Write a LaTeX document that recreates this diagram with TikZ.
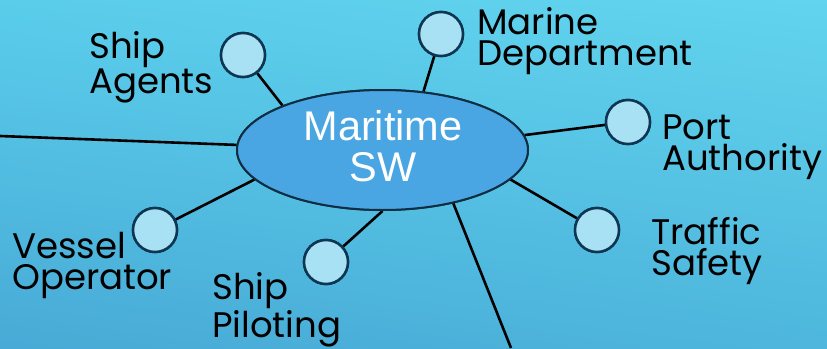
\documentclass[tikz,border=0pt]{standalone}
\usepackage{fontspec}
\setmainfont{Poppins}
\newfontfamily\arialfont{Liberation Sans}
\usetikzlibrary{shapes.geometric,shadings}
\definecolor{bgUL}{HTML}{5ACDEB}
\definecolor{bgUR}{HTML}{62D4EE}
\definecolor{bgLL}{HTML}{48AAD6}
\definecolor{bgLR}{HTML}{4EB6DC}
\definecolor{hubfill}{HTML}{4AA5E3}
\definecolor{hubline}{HTML}{0F2E44}
\definecolor{leaffill}{HTML}{A7E1F3}
\definecolor{leafline}{HTML}{0E3652}
\tikzset{
  hub/.style={ellipse, draw=hubline, line width=2pt, fill=hubfill, minimum width=291pt, minimum height=120pt, inner sep=0pt},
  leaf/.style={circle, draw=leafline, line width=2.5pt, fill=leaffill, minimum size=44pt, inner sep=0pt},
  conn/.style={draw=black, line width=2.6pt},
  lbl/.style={anchor=base west, inner sep=0pt, align=left, font=\fontsize{35.5}{30.5}\selectfont, text=black},
  hubtext/.style={anchor=base, inner sep=0pt, align=center, font=\arialfont\fontsize{41.5}{41}\selectfont, text=white}
}
\begin{document}
\begin{tikzpicture}[x=1pt,y=-1pt]
\useasboundingbox (0,0) rectangle (827,348);
\shade[upper left=bgUL, upper right=bgUR, lower left=bgLL, lower right=bgLR] (0,0) rectangle (827,348);

\node[hub] (mar) at (382.5,150) {};
\node[leaf] (agents) at (243,55) {};
\node[leaf] (marine) at (441,34) {};
\node[leaf] (port) at (628,122) {};
\node[leaf] (traffic) at (597,230) {};
\node[leaf] (vessel) at (155,230) {};
\node[leaf] (pilot) at (326,262) {};
\coordinate (leftend) at (0,136);
\coordinate (bottomend) at (511,348);

\draw[conn] (leftend) -- (mar.178.8);
\draw[conn] (bottomend) -- (mar.-37.9);
\draw[conn] (agents) -- (mar.156.9);
\draw[conn] (marine) -- (mar.55);
\draw[conn] (port) -- (mar.6);
\draw[conn] (traffic) -- (mar.-13.9);
\draw[conn] (vessel) -- (mar.-167);
\draw[conn] (pilot) -- (mar.-90);

\node[hub] at (mar) {};
\foreach \n in {agents,marine,port,traffic,vessel,pilot}{
  \node[leaf] at (\n) {};
}

\node[hubtext] (hubtxt) at (383,181) {Maritime\\SW};

\node[lbl] (agentslbl) at (89,93) {Ship\\Agents};
\node[lbl] (marinelbl) at (477,65) {Marine\\Department};
\node[lbl] (portlbl) at (662,170) {Port\\Authority};
\node[lbl] (trafficlbl) at (651,275) {Traffic\\Safety};
\node[lbl] (vessellbl) at (12,289) {Vessel\\Operator};
\node[lbl] (pilotlbl) at (212,337) {Ship\\Piloting};
\end{tikzpicture}
\end{document}
